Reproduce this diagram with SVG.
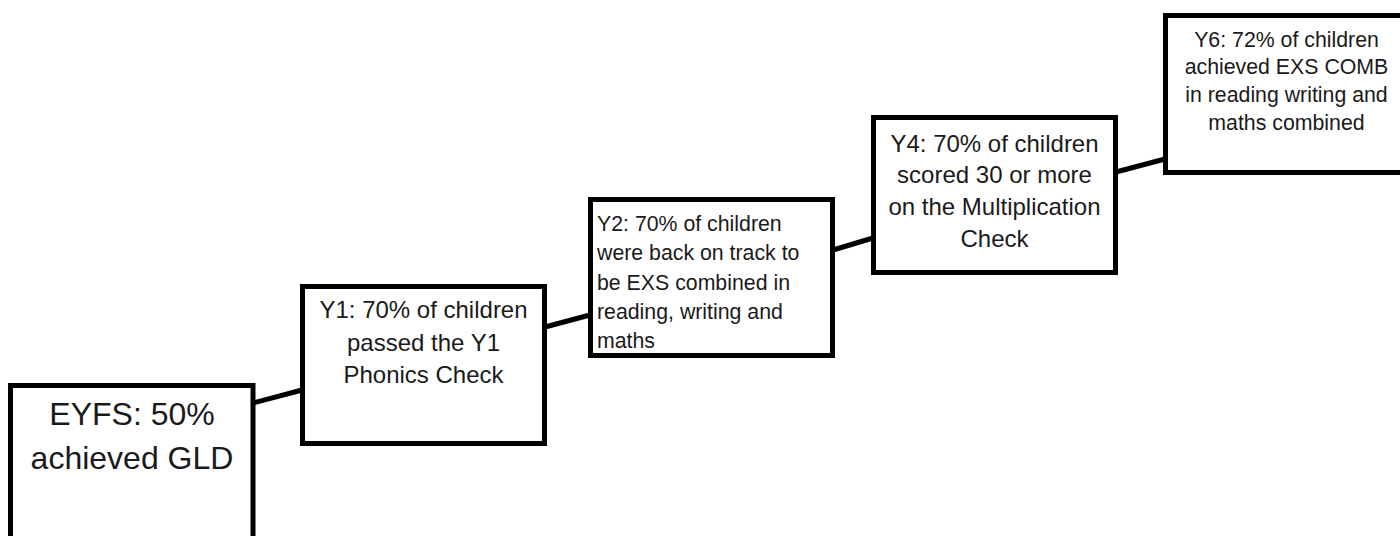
<svg xmlns="http://www.w3.org/2000/svg" width="1400" height="536" viewBox="0 0 1400 536">
<style>
.box{fill:#fff;stroke:#000;stroke-width:5}
.t{font-family:"Liberation Sans",Arial,sans-serif;fill:#1a1a1a}
.c{text-anchor:middle}
.conn{stroke:#000;stroke-width:5;fill:none}
</style>
<rect width="1400" height="536" fill="#fff"/>
<g id="connectors">
<line class="conn" x1="253" y1="403" x2="302" y2="390"/>
<line class="conn" x1="545" y1="327" x2="590" y2="315"/>
<line class="conn" x1="833" y1="250" x2="873" y2="238"/>
<line class="conn" x1="1116" y1="172" x2="1165" y2="159"/>
</g>
<g id="eyfs">
<rect class="box" x="10.5" y="385.5" width="242.5" height="170"/>
<text class="t c" x="132" y="425" font-size="32">EYFS: 50%</text>
<text class="t c" x="132" y="468.5" font-size="32">achieved GLD</text>
</g>
<g id="y1">
<rect class="box" x="302.5" y="286.5" width="242" height="157"/>
<text class="t c" font-size="24"><tspan x="423.5" y="318">Y1: 70% of children</tspan><tspan x="423.5" y="350.5">passed the Y1</tspan><tspan x="423.5" y="383">Phonics Check</tspan></text>
</g>
<g id="y2">
<rect class="box" x="590.5" y="199.5" width="242" height="156"/>
<text class="t" font-size="21.3"><tspan x="597" y="231">Y2: 70% of children</tspan><tspan x="597" y="260">were back on track to</tspan><tspan x="597" y="289.5">be EXS combined in</tspan><tspan x="597" y="319">reading, writing and</tspan><tspan x="597" y="348">maths</tspan></text>
</g>
<g id="y4">
<rect class="box" x="873.5" y="117.5" width="242" height="155"/>
<text class="t c" font-size="24"><tspan x="994.5" y="151.5">Y4: 70% of children</tspan><tspan x="994.5" y="183.3">scored 30 or more</tspan><tspan x="994.5" y="215">on the Multiplication</tspan><tspan x="994.5" y="246.7">Check</tspan></text>
</g>
<g id="y6">
<rect class="box" x="1165.5" y="15.5" width="242" height="157"/>
<text class="t c" font-size="21.3"><tspan x="1286.5" y="46.5">Y6: 72% of children</tspan><tspan x="1286.5" y="74.3">achieved EXS COMB</tspan><tspan x="1286.5" y="102">in reading writing and</tspan><tspan x="1286.5" y="130">maths combined</tspan></text>
</g>
</svg>
